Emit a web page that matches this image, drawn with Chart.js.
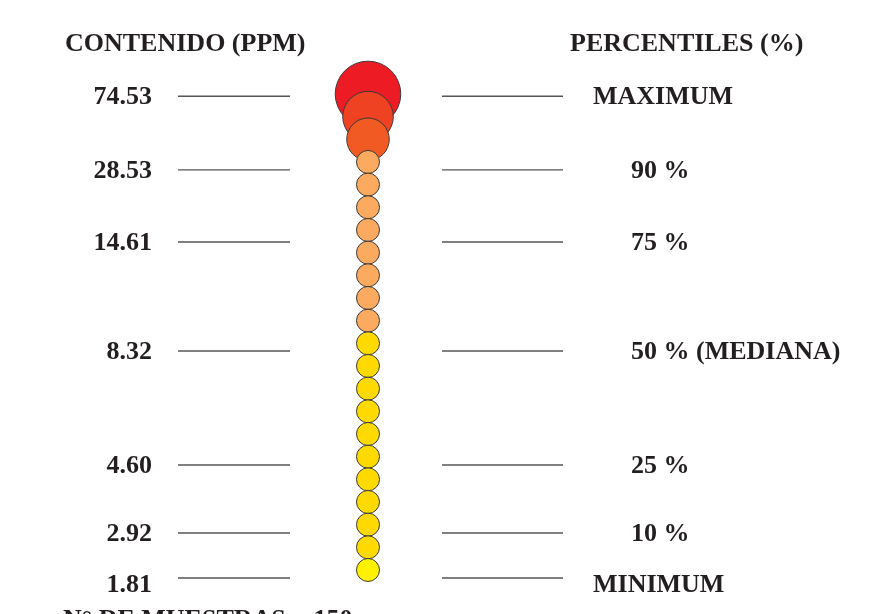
<!DOCTYPE html>
<html lang="es">
<head>
<meta charset="UTF-8">
<title>Contenido (ppm) - percentiles</title>
<script src="https://cdn.jsdelivr.net/npm/chart.js"></script>
<style>
    html, body { margin: 0; padding: 0; background: #fff; }
    #wrap { width: 876px; height: 614px; position: relative; }
</style>
</head>
<body>
<div id="wrap"><canvas id="chart"></canvas></div>
<script>
// --- data ---
// percentile lines: value (ppm), label, level on the circle rank scale
const ppmValues = ['74.53', '28.53', '14.61', '8.32', '4.60', '2.92', '1.81'];
const percentileLabels = ['MAXIMUM', '90 %', '75 %', '50 % (MEDIANA)', '25 %', '10 %', 'MINIMUM'];
const percentileLevel = [20.9, 17.65, 14.47, 9.66, 4.63, 1.63, -0.35];

// circles from the top down: relative size and colour class
const circleSize = [2.85, 2.2, 1.85, 1, 1, 1, 1, 1, 1, 1, 1, 1, 1, 1, 1, 1, 1, 1, 1, 1, 1, 1];
const circleClass = [0, 1, 2, 3, 3, 3, 3, 3, 3, 3, 3, 4, 4, 4, 4, 4, 4, 4, 4, 4, 4, 5];

const sampleCount = 150;

// --- styles ---
const palette = ['#ed1c24', '#ef4223', '#f15a22', '#fbaa60', '#ffda00', '#fff100'];
const TEXT = '#231f20';
const FONT = 'bold 26px "Liberation Serif", "Times New Roman", serif';
const BASE_R = 11.5;

const n = circleSize.length;
const bubbles = circleSize.map((s, i) => ({ x: 0, y: n - 1 - i, r: s * BASE_R }));

const lineSets = [];
percentileLevel.forEach(lvl => {
    lineSets.push({ type: 'line', data: [{ x: -1.9, y: lvl }, { x: -0.78, y: lvl }],
        borderColor: '#555', borderWidth: 1.4, pointRadius: 0, order: 2 });
    lineSets.push({ type: 'line', data: [{ x: 0.74, y: lvl }, { x: 1.95, y: lvl }],
        borderColor: '#555', borderWidth: 1.4, pointRadius: 0, order: 2 });
});

const labelPlugin = {
    id: 'labels',
    afterDraw(chart) {
        const ctx = chart.ctx;
        const xs = chart.scales.x, ys = chart.scales.y;
        ctx.save();
        ctx.font = FONT;
        ctx.fillStyle = TEXT;
        ctx.textBaseline = 'alphabetic';

        ctx.textAlign = 'left';
        ctx.fillText('CONTENIDO (PPM)', xs.getPixelForValue(-3.03), 51);
        ctx.fillText('PERCENTILES (%)', xs.getPixelForValue(2.02), 51);

        percentileLevel.forEach((lvl, i) => {
            const last = i === percentileLevel.length - 1;
            const y = ys.getPixelForValue(lvl) + (last ? 14 : 8);
            ctx.textAlign = 'right';
            ctx.fillText(ppmValues[i], xs.getPixelForValue(-2.16), y);
            ctx.textAlign = 'left';
            const lab = percentileLabels[i];
            const lx = /^\d/.test(lab) ? 2.63 : 2.25;
            ctx.fillText(lab, xs.getPixelForValue(lx), y);
        });

        ctx.textAlign = 'left';
        ctx.fillText('N\u00b0 DE MUESTRAS = ' + sampleCount, xs.getPixelForValue(-3.05), 627);
        ctx.restore();
    }
};

new Chart(document.getElementById('chart'), {
    type: 'bubble',
    data: {
        datasets: [{
            data: bubbles,
            backgroundColor: circleClass.map(c => palette[c]),
            borderColor: '#3a3a3a',
            borderWidth: 1,
            hoverBorderWidth: 1,
            order: 1,
            clip: false
        }].concat(lineSets)
    },
    options: {
        responsive: true,
        maintainAspectRatio: false,
        animation: false,
        layout: { autoPadding: false, padding: { top: 14.6, bottom: 10, left: 0, right: 0 } },
        plugins: { legend: { display: false }, tooltip: { enabled: false } },
        scales: {
            x: { type: 'linear', display: false, min: -3.68, max: 5.08 },
            y: { type: 'linear', display: false, min: -1.5, max: 24.5 }
        }
    },
    plugins: [labelPlugin]
});
</script>
</body>
</html>
